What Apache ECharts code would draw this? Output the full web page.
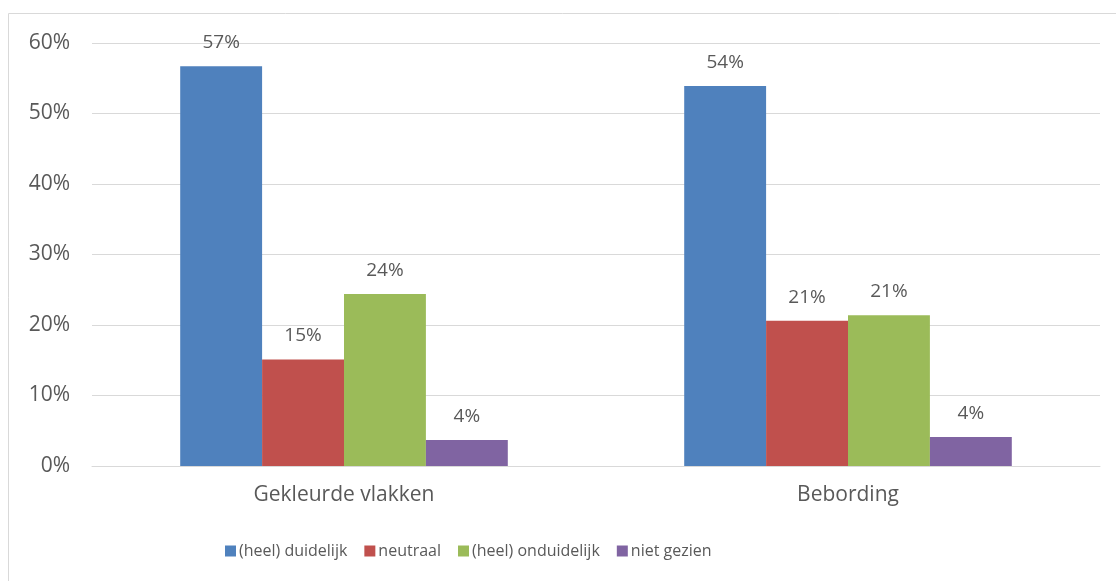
<!DOCTYPE html>
<html>
<head>
<meta charset="utf-8">
<script src="https://cdn.jsdelivr.net/npm/echarts@6/dist/echarts.min.js"></script>
<style>
html,body{margin:0;padding:0;background:#fff;}
#main{width:1116px;height:581px;}
</style>
</head>
<body>
<div id="main"></div>
<script>
const categories = ['Gekleurde vlakken', 'Bebording'];
const seriesNames = ['(heel) duidelijk', 'neutraal', '(heel) onduidelijk', 'niet gezien'];
const duidelijk = [56.7, 53.9];
const neutraal = [15.1, 20.6];
const onduidelijk = [24.4, 21.4];
const nietGezien = [3.7, 4.1];
const yTicks = [0, 10, 20, 30, 40, 50, 60];

const colors = ['#4F81BD', '#C0504D', '#9BBB59', '#8064A2'];
const font = "'Open Sans', 'Noto Sans', sans-serif";
const textColor = '#595959';

const chart = echarts.init(document.getElementById('main'));
const allData = [duidelijk, neutraal, onduidelijk, nietGezien];
chart.setOption({
  animation: false,
  textStyle: { fontFamily: font },
  graphic: [{
    type: 'rect',
    shape: { x: 8.5, y: 13.5, width: 1200, height: 700 },
    style: { fill: 'none', stroke: '#d9d9d9', lineWidth: 1 },
    silent: true
  }],
  grid: { left: 92, right: 16, top: 43, bottom: 115 },
  legend: {
    top: 538,
    left: 220,
    itemWidth: 11,
    itemHeight: 11,
    itemGap: 17,
    icon: 'rect',
    textStyle: { color: textColor, fontSize: 16, fontFamily: font, padding: [0, 0, 0, -2] },
    data: seriesNames
  },
  xAxis: {
    type: 'category',
    data: categories,
    axisLine: { lineStyle: { color: '#d9d9d9' } },
    axisTick: { show: false },
    axisLabel: { color: textColor, fontSize: 21, margin: 19 }
  },
  yAxis: {
    type: 'value',
    min: yTicks[0],
    max: yTicks[yTicks.length - 1],
    interval: 10,
    axisLine: { show: false },
    axisTick: { show: false },
    splitLine: { lineStyle: { color: '#d9d9d9' } },
    axisLabel: { color: textColor, fontSize: 21, margin: 22, formatter: v => v + '%' }
  },
  series: seriesNames.map((n, i) => ({
    name: n,
    type: 'bar',
    data: allData[i],
    barGap: '0%',
    barCategoryGap: '35%',
    itemStyle: { color: colors[i] },
    label: {
      show: true,
      position: 'top',
      distance: 14,
      color: textColor,
      fontSize: 19,
      formatter: p => Math.round(p.value) + '%'
    }
  }))
});
</script>
</body>
</html>
